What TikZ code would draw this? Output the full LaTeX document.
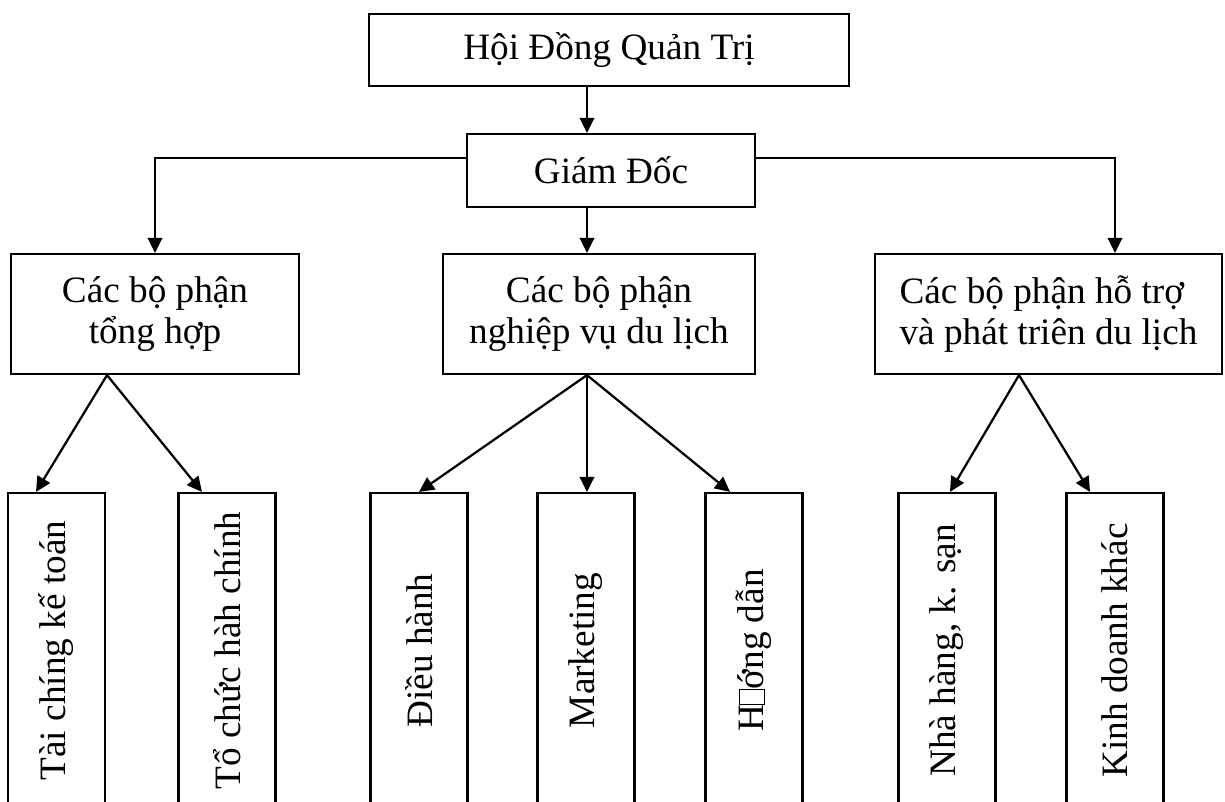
\documentclass[tikz,border=0pt]{standalone}
\usepackage{fontspec}
\setmainfont{Liberation Serif}
\usepackage{graphicx}
\usetikzlibrary{arrows.meta}

% the glyph box that stands in the printed label
\newcommand{\nochar}{{\setlength{\fboxsep}{0pt}\setlength{\fboxrule}{0.6pt}\fbox{\rule{0pt}{0.64em}\hspace{0.36em}}}}

\begin{document}
\begin{tikzpicture}[
    x=0.02cm, y=-0.02cm,
    box/.style={rectangle, draw=black, line width=0.045cm, inner sep=0pt,
      font=\fontsize{21.2}{23.3}\selectfont, align=center},
    group/.style={box, minimum height=2.4cm},
    leaf/.style={box, minimum width=1.94cm, minimum height=6.3cm},
    arr/.style={-{Triangle[length=0.3cm, width=0.29cm]}, line width=0.045cm},
  ]
  \useasboundingbox (0,0) rectangle (1225,802);
  \clip (0,0) rectangle (1225,802);

  % Nodes
  \node[box, minimum width=9.6cm, minimum height=1.44cm] (hdqt) at (609,50) {Hội Đồng Quản Trị};
  \node[box, minimum width=5.76cm, minimum height=1.46cm] (gd) at (611,170.5) {Giám Đốc};

  \node[group, minimum width=5.76cm] (tonghop) at (155,314) {Các bộ phận\\tổng hợp};
  \node[group, minimum width=6.24cm] (nghiepvu) at (599,314) {Các bộ phận\\nghiệp vụ du lịch};
  \node[group, minimum width=6.94cm, align=left] (hotro) at (1048.5,314) {Các bộ phận hỗ trợ\\và phát triên du lịch};

  \node[leaf] (taichinh) at (56.5,650.5) {\rotatebox{90}{Tài chíng kế toán}};
  \node[leaf] (tochuc) at (227,650.5) {\rotatebox{90}{Tổ chức hàh chính}};
  \node[leaf] (dieuhanh) at (419,650.5) {\rotatebox{90}{Điều hành}};
  \node[leaf] (marketing) at (586,650.5) {\rotatebox{90}{Marketing}};
  \node[leaf] (huongdan) at (754,650.5) {\rotatebox{90}{H\nochar ớng dẫn}};
  \node[leaf] (nhahang) at (947,650.5) {\rotatebox{90}{Nhà hàng, k. sạn}};
  \node[leaf] (kinhdoanh) at (1115,650.5) {\rotatebox{90}{Kinh doanh khác}};

  \coordinate (spine) at (587,0);

  % Arrows
  \draw[arr] (hdqt.south -| spine) -- (gd.north -| spine);
  \draw[arr] (gd.south -| spine) -- (nghiepvu.north -| spine);
  \draw[arr] ([yshift=0.25cm]gd.west) -| (tonghop.north);
  \draw[arr] ([yshift=0.25cm]gd.east) -| ([xshift=1.33cm]hotro.north);

  \draw[arr] ([xshift=-0.96cm]tonghop.south) -- ([xshift=-0.41cm]taichinh.north);
  \draw[arr] ([xshift=-0.96cm]tonghop.south) -- ([xshift=-0.5cm]tochuc.north);

  \draw[arr] (nghiepvu.south -| spine) -- (dieuhanh.north);
  \draw[arr] (nghiepvu.south -| spine) -- (marketing.north -| spine);
  \draw[arr] (nghiepvu.south -| spine) -- ([xshift=-0.48cm]huongdan.north);

  \draw[arr] ([xshift=-0.59cm]hotro.south) -- ([xshift=0.06cm]nhahang.north);
  \draw[arr] ([xshift=-0.59cm]hotro.south) -- ([xshift=-0.5cm]kinhdoanh.north);
\end{tikzpicture}
\end{document}
